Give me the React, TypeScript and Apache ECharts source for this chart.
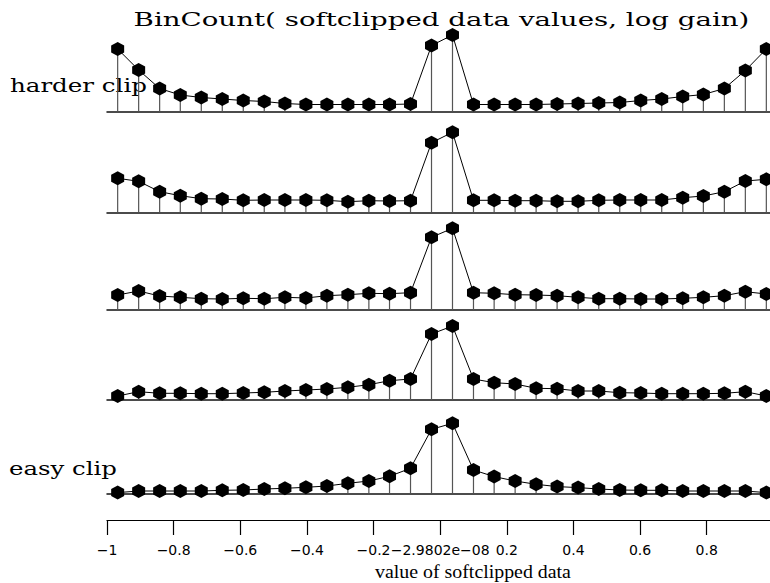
import React, { useEffect, useRef } from "react";
import * as echarts from "echarts";

// bin centres of the histogram (value of softclipped data)
const binCenters = [
  -0.968, -0.905, -0.842, -0.78, -0.717, -0.654, -0.591, -0.528, -0.466, -0.403,
  -0.34, -0.277, -0.214, -0.152, -0.089, -0.026, 0.037, 0.1, 0.162, 0.225,
  0.288, 0.351, 0.414, 0.476, 0.539, 0.602, 0.665, 0.728, 0.79, 0.853, 0.916, 0.979,
];

// log-gained bin counts, one trace per clip level (harder clip at top)
const clipHarder = [
  62.5, 41.5, 23, 16.5, 14, 12.5, 11, 10, 8, 7, 7, 7, 7, 7, 7.5, 66,
  76.5, 7, 7, 7, 7, 7.5, 8, 8.5, 9, 11, 12.5, 15, 17, 23, 41, 62.5,
];
const clipMedHard = [
  34, 31, 20.6, 16.6, 13.6, 13.3, 12, 12.3, 12.3, 12.3, 12, 10.6, 11.6, 11.3, 11.6, 69.6,
  80, 12, 12, 11.6, 11.6, 11, 11, 12, 12.3, 12.3, 12.3, 14.6, 16.3, 20.6, 31.3, 33,
];
const clipMedium = [
  15, 19, 14, 12.7, 11.3, 11, 11.7, 11.3, 12.7, 12, 14.3, 15.3, 16.7, 16.3, 17.3, 72.7,
  81.7, 17.3, 16.7, 15.3, 15, 14.3, 12.7, 11.3, 11.3, 11, 11, 11.7, 12.7, 14.3, 18.3, 16,
];
const clipMedEasy = [
  4, 8.3, 6.7, 6.7, 6.3, 6.3, 7, 7.7, 9, 10, 11, 12.7, 15.3, 19.3, 21, 66,
  74, 21, 17.3, 16, 11.7, 11.3, 9, 9, 7.3, 7, 6.3, 6.3, 6.3, 6.7, 8.3, 4,
];
const clipEasy = [
  0.7, 2.3, 2.3, 2.3, 2.3, 3, 3.3, 4.3, 5, 6, 7.3, 10, 12.3, 17, 25, 64,
  70, 23.3, 16.7, 12.3, 9, 6.7, 5.7, 4.3, 3.3, 3, 3, 2.3, 2.3, 2.3, 2.3, 0.7,
];

const traces = [clipHarder, clipMedHard, clipMedium, clipMedEasy, clipEasy];

const titleText = "BinCount( softclipped data values, log gain)";
const xAxisTitle = "value of softclipped data";
const topLabel = "harder clip";
const bottomLabel = "easy clip";

// layout (pixels)
const baselineY = [111.5, 212.3, 310, 400, 493.3];
const panelHeight = 85;
const X_MIN = -1;
const X_MAX = 0.99;
const Y_MAX = 85;

const HEX = "path://M0,-10 L8.66,-5 L8.66,5 L0,10 L-8.66,5 L-8.66,-5 Z";
const TITLE_FONT = "DejaVu Serif";
const AXIS_NAME_FONT = "Liberation Serif";

function measure(text: string, size: number, family: string): number {
  const ctx = document.createElement("canvas").getContext("2d");
  if (!ctx) return 1;
  ctx.font = `${size}px "${family}"`;
  return ctx.measureText(text).width || 1;
}

function fittedText(
  text: string,
  x: number,
  y: number,
  size: number,
  family: string,
  targetWidth: number,
  align: "left" | "center"
) {
  const w = measure(text, size, family);
  return {
    type: "text",
    x,
    y,
    scaleX: targetWidth / w,
    style: {
      text,
      fontFamily: family,
      fontSize: size,
      fill: "#000",
      align,
      verticalAlign: "middle",
    },
  };
}

export default function App() {
  const ref = useRef<HTMLDivElement>(null);

  useEffect(() => {
    if (!ref.current) return;
    const chart = echarts.init(ref.current, undefined, { renderer: "svg" });

    const grids = baselineY.map((b) => ({
      left: 107,
      right: 0,
      top: b - panelHeight,
      height: panelHeight,
    }));

    const xAxes: any[] = baselineY.map((_, i) => ({
      type: "value",
      gridIndex: i,
      min: X_MIN,
      max: X_MAX,
      axisLine: { show: true, onZero: false, lineStyle: { color: "#111", width: 1.5 } },
      axisTick: { show: false },
      axisLabel: { show: false },
      splitLine: { show: false },
    }));
    xAxes.push({
      type: "value",
      gridIndex: 4,
      position: "bottom",
      offset: 26.7,
      min: X_MIN,
      max: X_MAX,
      interval: 0.2,
      axisLine: { show: true, onZero: false, lineStyle: { color: "#000", width: 1.2 } },
      axisTick: { show: true, inside: false, length: 15, lineStyle: { color: "#000", width: 1.2 } },
      axisLabel: {
        show: true,
        margin: 23,
        color: "#000",
        fontFamily: "DejaVu Sans",
        fontSize: 14,
        showMaxLabel: false,
        formatter: (v: number) =>
          Math.abs(v) < 1e-9 ? "\u22122.9802e\u221208" : String(v).replace("-", "\u2212"),
      },
      splitLine: { show: false },
    });

    const yAxes = baselineY.map((_, i) => ({
      type: "value",
      gridIndex: i,
      min: 0,
      max: Y_MAX,
      show: false,
    }));

    const series: any[] = [];
    traces.forEach((vals, i) => {
      const data = binCenters.map((x, j) => [x, vals[j]]);
      series.push({
        type: "custom",
        xAxisIndex: i,
        yAxisIndex: i,
        data,
        encode: { x: 0, y: 1 },
        z: 2,
        silent: true,
        renderItem: (_p: any, api: any) => {
          const a = api.coord([api.value(0), 0]);
          const b = api.coord([api.value(0), api.value(1)]);
          return {
            type: "line",
            shape: { x1: a[0], y1: a[1], x2: b[0], y2: b[1] },
            style: { stroke: "#555", lineWidth: 1.2 },
          };
        },
      });
      series.push({
        type: "line",
        xAxisIndex: i,
        yAxisIndex: i,
        data,
        symbol: HEX,
        symbolSize: [13, 14],
        showSymbol: true,
        clip: false,
        z: 3,
        itemStyle: { color: "#000", borderWidth: 0 },
        lineStyle: { color: "#000", width: 1 },
      });
    });

    chart.setOption({
      animation: false,
      backgroundColor: "#fff",
      grid: grids,
      xAxis: xAxes,
      yAxis: yAxes,
      series,
      graphic: [
        fittedText(titleText, 441.5, 20, 18, TITLE_FONT, 616, "center"),
        fittedText(topLabel, 10, 86, 18, TITLE_FONT, 137, "left"),
        fittedText(bottomLabel, 9, 469, 18, TITLE_FONT, 108, "left"),
        fittedText(xAxisTitle, 473, 572, 18, AXIS_NAME_FONT, 196, "center"),
      ],
    });

    return () => chart.dispose();
  }, []);

  return (
    <div
      ref={ref}
      style={{ position: "absolute", left: 0, top: 0, width: 770, height: 583, background: "#fff" }}
    />
  );
}
